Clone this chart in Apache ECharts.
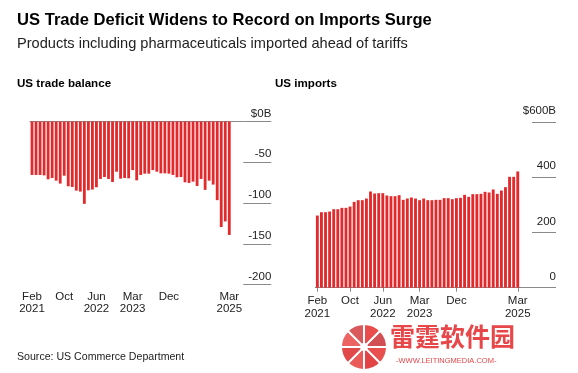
<!DOCTYPE html>
<html><head><meta charset="utf-8">
<script src="https://cdn.jsdelivr.net/npm/echarts@6/dist/echarts.min.js"></script>
<style>html,body{margin:0;padding:0;background:#fff}#c{width:578px;height:373px}</style>
</head><body><div id="c"></div>
<script>
const months = ['Feb 2021','Mar 2021','Apr 2021','May 2021','Jun 2021','Jul 2021','Aug 2021','Sep 2021','Oct 2021','Nov 2021','Dec 2021',
  'Jan 2022','Feb 2022','Mar 2022','Apr 2022','May 2022','Jun 2022','Jul 2022','Aug 2022','Sep 2022','Oct 2022','Nov 2022','Dec 2022',
  'Jan 2023','Feb 2023','Mar 2023','Apr 2023','May 2023','Jun 2023','Jul 2023','Aug 2023','Sep 2023','Oct 2023','Nov 2023','Dec 2023',
  'Jan 2024','Feb 2024','Mar 2024','Apr 2024','May 2024','Jun 2024','Jul 2024','Aug 2024','Sep 2024','Oct 2024','Nov 2024','Dec 2024',
  'Jan 2025','Feb 2025','Mar 2025'];
const balance = [-65.6,-65.6,-65.6,-66.1,-70.9,-69.3,-72.6,-76.2,-66.5,-79.5,-80.3,-84.8,-86.0,-101.0,-84.4,-83.5,-80.7,-70.5,-68.1,-70.5,
  -74.2,-61.6,-70.1,-69.3,-69.7,-59.6,-72.2,-65.6,-64.0,-64.0,-59.6,-61.6,-63.6,-63.6,-64.0,-65.6,-68.5,-68.1,-74.6,-75.4,
  -73.8,-79.1,-70.5,-83.9,-72.6,-77.4,-96.5,-129.5,-122.6,-139.2];
const imports = [261.3,273.4,273.4,275.8,284.2,284.2,289.1,289.1,293.9,310.8,316.9,316.9,322.9,348.3,341.1,342.3,342.3,333.8,331.4,331.4,
  335.0,318.1,322.9,326.6,322.9,316.9,322.9,316.9,316.9,318.1,318.1,324.2,324.2,320.5,324.2,325.4,336.2,329.0,338.7,338.7,
  339.9,347.1,344.7,355.6,339.9,351.9,364.1,401.5,401.5,420.9];
const tickIndex = [0, 8, 16, 25, 34, 49];
const tickText = ['Feb\n2021', 'Oct', 'Jun\n2022', 'Mar\n2023', 'Dec', 'Mar\n2025'];
const balanceTicks = [-200, -150, -100, -50, 0];
const importTicks = [0, 200, 400, 600];

const FONT = 'Liberation Sans';
const RED = '#e2292b';
const LINE = '#8a8a8a';
const isTick = (i) => tickIndex.indexOf(i) >= 0;
const labelFmt = (v, i) => { const k = tickIndex.indexOf(i); return k >= 0 ? tickText[k] : ''; };

function xAx(grid, showLine, tickLen, margin) {
  return {
    gridIndex: grid, type: 'category', data: months, position: 'bottom',
    axisLine: { show: showLine, lineStyle: { color: LINE, width: 1 } },
    axisTick: { show: true, alignWithLabel: true, interval: (i) => isTick(i), length: tickLen, lineStyle: { color: LINE } },
    axisLabel: { interval: (i) => isTick(i), formatter: labelFmt, margin: margin, fontSize: 11.5, lineHeight: 12.5,
      color: '#222', fontFamily: FONT }
  };
}
function yMain(grid, offset, min, max, interval, tickLen, fmt, pad) {
  return {
    gridIndex: grid, type: 'value', position: 'right', offset: offset, min: min, max: max, interval: interval,
    axisLine: { show: false }, splitLine: { show: false },
    axisTick: { show: true, length: tickLen, lineStyle: { color: LINE } },
    axisLabel: { align: 'right', verticalAlign: 'bottom', margin: tickLen, padding: [0, 0, pad, 0],
      fontSize: 11.5, color: '#222', fontFamily: FONT, formatter: fmt }
  };
}
function yZero(grid, min, max, len) {
  return {
    gridIndex: grid, type: 'value', position: 'right', offset: 0, min: min, max: max,
    axisLine: { show: false }, splitLine: { show: false }, axisLabel: { show: false },
    axisTick: { show: true, length: len, customValues: [0], lineStyle: { color: LINE } }
  };
}

const chart = echarts.init(document.getElementById('c'), null, { renderer: 'canvas' });
chart.setOption({
  animation: false,
  backgroundColor: '#fff',
  title: [
    { text: 'US Trade Deficit Widens to Record on Imports Surge', left: 17, top: 11.5, padding: 0,
      textStyle: { fontFamily: FONT, fontWeight: 'bold', fontSize: 16.6, color: '#000' } },
    { text: 'Products including pharmaceuticals imported ahead of tariffs', left: 17, top: 36, padding: 0,
      textStyle: { fontFamily: FONT, fontWeight: 'normal', fontSize: 14.6, color: '#222' } },
    { text: 'US trade balance', left: 17, top: 78, padding: 0,
      textStyle: { fontFamily: FONT, fontWeight: 'bold', fontSize: 11.6, color: '#000' } },
    { text: 'US imports', left: 275, top: 78, padding: 0,
      textStyle: { fontFamily: FONT, fontWeight: 'bold', fontSize: 11.6, color: '#000' } },
    { text: 'Source: US Commerce Department', left: 17, top: 351.5, padding: 0,
      textStyle: { fontFamily: FONT, fontWeight: 'normal', fontSize: 10.6, color: '#222' } }
  ],
  grid: [
    { left: 30, top: 121.5, width: 201.3, height: 163 },
    { left: 315.3, top: 122, width: 204.5, height: 165.7 }
  ],
  xAxis: [
    xAx(0, false, 3, 6),
    { gridIndex: 0, type: 'category', data: months, position: 'top',
      axisLine: { show: true, lineStyle: { color: LINE, width: 1 } }, axisTick: { show: false }, axisLabel: { show: false } },
    xAx(1, true, 4, 7)
  ],
  yAxis: [
    yMain(0, 12, balanceTicks[0], balanceTicks[balanceTicks.length - 1], 50, 28, (v) => v === 0 ? '$0B' : String(v), 2),
    yZero(0, balanceTicks[0], balanceTicks[balanceTicks.length - 1], 12),
    yMain(1, 12.2, importTicks[0], importTicks[importTicks.length - 1], 200, 24, (v) => v === 600 ? '$600B' : String(v), 5),
    yZero(1, importTicks[0], importTicks[importTicks.length - 1], 12.2)
  ],
  series: [
    { type: 'bar', xAxisIndex: 0, yAxisIndex: 0, data: balance, barCategoryGap: '30%', itemStyle: { color: RED } },
    { type: 'bar', xAxisIndex: 2, yAxisIndex: 2, data: imports, barCategoryGap: '30%', itemStyle: { color: RED } }
  ],
  graphic: [
    { type: 'group', left: 340, top: 323, children: [
      { type: 'sector', shape: { cx: 25, cy: 24, r0: 3, r: 23, startAngle: 0, endAngle: Math.PI / 4 }, style: { fill: '#e8504f', stroke: '#fff', lineWidth: 2 } },
      { type: 'sector', shape: { cx: 25, cy: 24, r0: 3, r: 23, startAngle: Math.PI / 4, endAngle: Math.PI / 2 }, style: { fill: '#e24446', stroke: '#fff', lineWidth: 2 } },
      { type: 'sector', shape: { cx: 25, cy: 24, r0: 3, r: 23, startAngle: Math.PI / 2, endAngle: 3 * Math.PI / 4 }, style: { fill: '#ea5a58', stroke: '#fff', lineWidth: 2 } },
      { type: 'sector', shape: { cx: 25, cy: 24, r0: 3, r: 23, startAngle: 3 * Math.PI / 4, endAngle: Math.PI }, style: { fill: '#e0484a', stroke: '#fff', lineWidth: 2 } },
      { type: 'sector', shape: { cx: 25, cy: 24, r0: 3, r: 23, startAngle: Math.PI, endAngle: 5 * Math.PI / 4 }, style: { fill: '#ec6462', stroke: '#fff', lineWidth: 2 } },
      { type: 'sector', shape: { cx: 25, cy: 24, r0: 3, r: 23, startAngle: 5 * Math.PI / 4, endAngle: 3 * Math.PI / 2 }, style: { fill: '#d95a5c', stroke: '#fff', lineWidth: 2 } },
      { type: 'sector', shape: { cx: 25, cy: 24, r0: 3, r: 23, startAngle: 3 * Math.PI / 2, endAngle: 7 * Math.PI / 4 }, style: { fill: '#e84c4c', stroke: '#fff', lineWidth: 2 } },
      { type: 'sector', shape: { cx: 25, cy: 24, r0: 3, r: 23, startAngle: 7 * Math.PI / 4, endAngle: 2 * Math.PI }, style: { fill: '#d24f55', stroke: '#fff', lineWidth: 2 } },
      { type: 'text', x: 51, y: 1, style: { text: '雷霆软件园', fill: '#e8474a', font: 'bold 25px "Noto Sans CJK SC"' } },
      { type: 'text', x: 57, y: 34, style: { text: '-WWW.LEITINGMEDIA.COM-', fill: '#e8474a', font: '7.5px "Liberation Sans"' } }
    ] }
  ]
});
</script></body></html>
